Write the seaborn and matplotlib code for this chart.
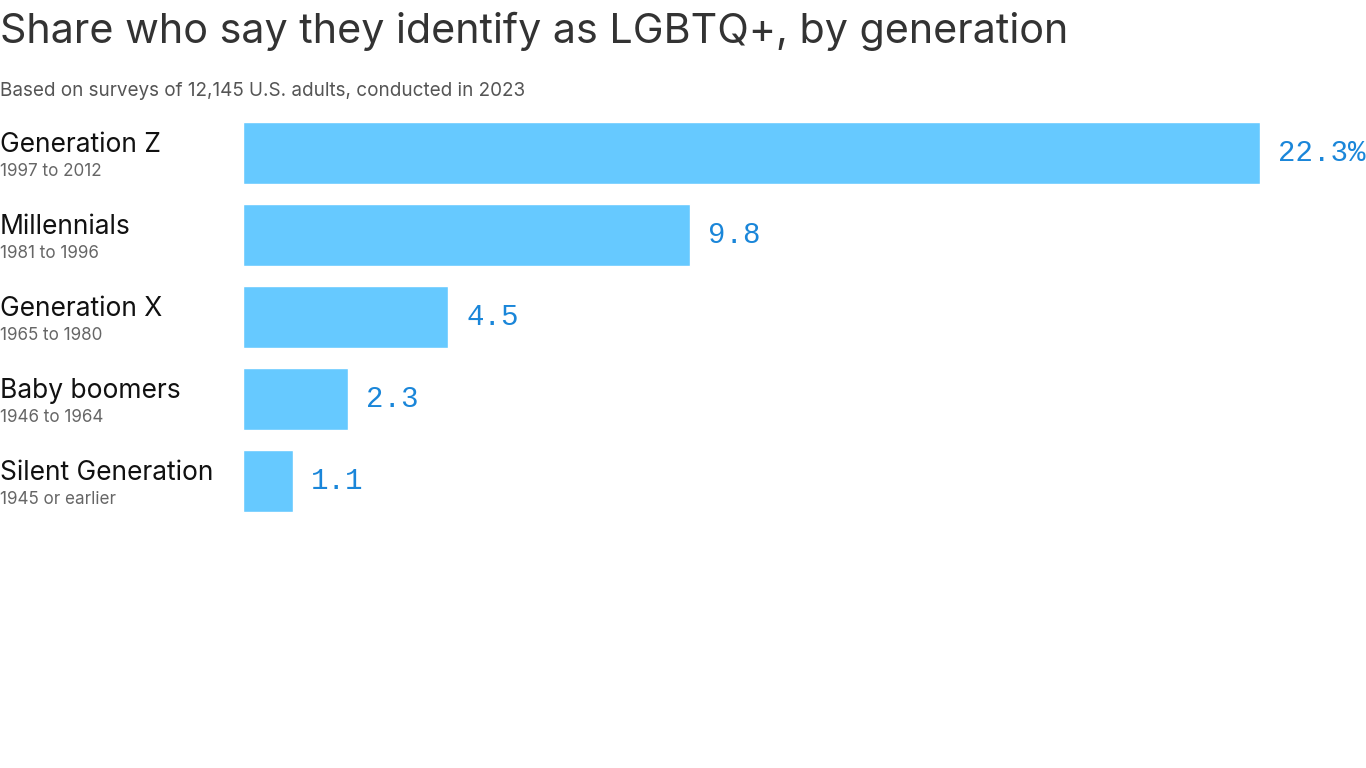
import matplotlib
matplotlib.use("Agg")
import matplotlib.pyplot as plt
import seaborn as sns
import pandas as pd

categories = ["Generation Z", "Millennials", "Generation X", "Baby boomers", "Silent Generation"]
subtitles = ["1997 to 2012", "1981 to 1996", "1965 to 1980", "1946 to 1964", "1945 or earlier"]
values = [22.3, 9.8, 4.5, 2.3, 1.1]
value_labels = ["22.3%", "9.8", "4.5", "2.3", "1.1"]

df = pd.DataFrame({"gen": categories, "share": values})

sns.set_theme(style="white")
plt.rcParams['font.family'] = ['Inter', 'DejaVu Sans']

fig = plt.figure(figsize=(13.66, 7.68), dpi=100)
ax = fig.add_axes([243/1366, 1-522/768, 1017/1366, 410/768])

sns.barplot(data=df, x="share", y="gen", color="#66c9ff", width=0.744,
            saturation=1, ax=ax, orient="h")
ax.set_xlim(0, 22.3)
ax.set_ylim(4.5, -0.5)
ax.set_xlabel("")
ax.set_ylabel("")
ax.set_xticks([])
ax.set_yticks([])
for s in ax.spines.values():
    s.set_visible(False)

for i, (v, lab) in enumerate(zip(values, value_labels)):
    ax.annotate(lab, xy=(v, i), xytext=(18, 0), textcoords="offset pixels",
                va="center", ha="left", fontsize=21, color="#1a86d9",
                family="Liberation Mono", clip_on=False)

for i, (c, st) in enumerate(zip(categories, subtitles)):
    y_fig = (153 + 82*i)
    fig.text(0, 1-(y_fig-8)/768, c, fontsize=19, color="#111111", va="center", ha="left")
    fig.text(0, 1-(y_fig+18)/768, st, fontsize=12.3, color="#666666", va="center", ha="left")

fig.text(0, 1-31/768, "Share who say they identify as LGBTQ+, by generation",
         fontsize=29.7, color="#333333", va="center", ha="left")
fig.text(0, 1-91/768, "Based on surveys of 12,145 U.S. adults, conducted in 2023",
         fontsize=13.6, color="#555555", va="center", ha="left")

fig.savefig("out.png", dpi=100)
